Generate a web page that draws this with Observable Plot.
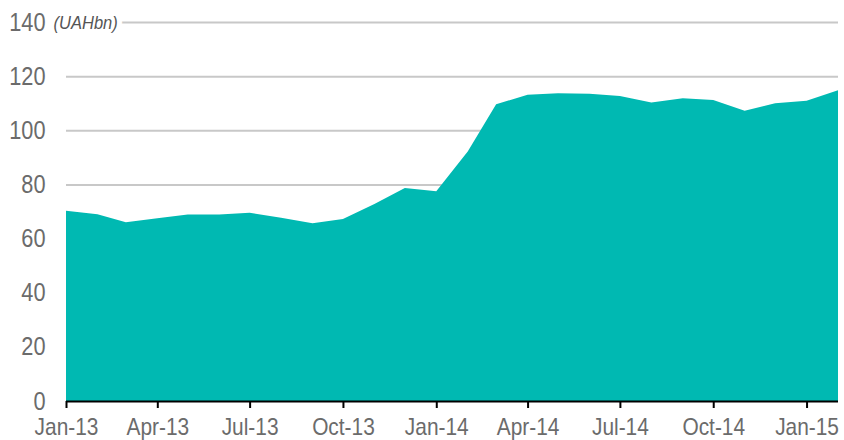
<!DOCTYPE html>
<html>
<head>
<meta charset="utf-8">
<script src="https://cdn.jsdelivr.net/npm/d3@7"></script>
<script src="https://cdn.jsdelivr.net/npm/@observablehq/plot@0.6"></script>
<style>
  html, body { margin: 0; padding: 0; background: #fff; }
  #chart svg { font-family: "Liberation Sans", Arial, sans-serif; }
</style>
</head>
<body>
<div id="chart"></div>
<script>
const months = ["2013-01","2013-02","2013-03","2013-04","2013-05","2013-06","2013-07","2013-08","2013-09","2013-10","2013-11","2013-12",
  "2014-01","2014-02","2014-03","2014-04","2014-05","2014-06","2014-07","2014-08","2014-09","2014-10","2014-11","2014-12",
  "2015-01","2015-02"];
const values = [70.3, 69.0, 66.0, 67.5, 68.9, 68.9, 69.5, 67.7, 65.7, 67.2, 72.8, 78.7,
  77.5, 92.2, 109.6, 113.1, 113.7, 113.5, 112.7, 110.3, 111.8, 111.2, 107.2, 110.0,
  110.9, 114.8];
const yTicks = [0, 20, 40, 60, 80, 100, 120, 140];
const gridTicks = [20, 40, 60, 80, 100, 120, 140];
const unitLabel = "(UAHbn)";

const data = months.map((m, i) => ({date: new Date(m + "-01T00:00:00Z"), value: values[i]}));
const xTicks = d3.utcMonth.every(3).range(data[0].date, new Date("2015-02-01T00:00:00Z"));
const fmt = d3.utcFormat("%b-%y");

const chart = Plot.plot({
  width: 844,
  height: 440,
  marginLeft: 66,
  marginRight: 6,
  marginTop: 22,
  marginBottom: 39,
  style: {fontSize: "24px", color: "#6b6b6b", background: "#fff"},
  x: {type: "utc", domain: [data[0].date, data[data.length - 1].date], ticks: xTicks, tickFormat: fmt, label: null},
  y: {domain: [0, 140], ticks: yTicks, label: null},
  marks: [
    Plot.ruleY(gridTicks, {stroke: "#c8c8c8", strokeWidth: 2}),
    Plot.areaY(data, {x: "date", y: "value", fill: "#00b9b2"}),
    Plot.axisY({ticks: yTicks, tickSize: 0, tickPadding: 21, fill: "#6b6b6b", fontSize: 25}),
    Plot.axisX({ticks: xTicks, tickFormat: fmt, tickSize: 7, stroke: "#000", strokeWidth: 2, tickPadding: 9, fill: "#6b6b6b", fontSize: 24}),
    Plot.ruleY([0], {stroke: "#000", strokeWidth: 2}),
    Plot.text([unitLabel], {x: () => data[0].date, y: () => 140, text: d => d, textAnchor: "start", dx: -13, fontStyle: "italic", fontSize: 19, fill: "#555", stroke: "white", strokeWidth: 12})
  ]
});

// condense all text horizontally (reference uses a condensed typeface)
const sx = 0.87;
chart.querySelectorAll("text").forEach(t => {
  const tr = t.getAttribute("transform");
  if (tr) {
    t.setAttribute("transform", tr + ` scale(${sx},1)`);
  } else {
    const x = +(t.getAttribute("x") || 0), y = +(t.getAttribute("y") || 0);
    t.removeAttribute("x"); t.removeAttribute("y");
    t.setAttribute("transform", `translate(${x},${y}) scale(${sx},1)`);
  }
});
document.getElementById("chart").appendChild(chart);
</script>
</body>
</html>
